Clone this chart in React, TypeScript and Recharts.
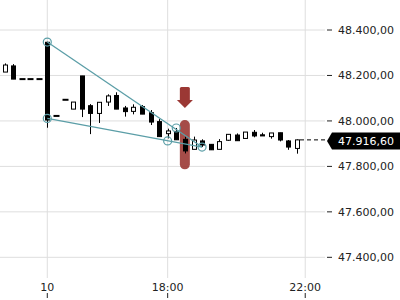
import { ComposedChart, Bar, XAxis, YAxis, CartesianGrid, ReferenceLine, ReferenceDot, ReferenceArea } from 'recharts'

const W = 400
const H = 300
const Y_AXIS_W = 75
const X_AXIS_H = 22
const Y_MIN = 47309
const Y_MAX = 48532
const FONT = 'DejaVu Sans'

// 15 min candles, one per slot
const opens = [48215, 48242, 48184, 48184, 48184, 48346, 48022, 48093, 48052, 48198, 48067, 48033, 48083, 48112, 48057, 48042, 48063, 48036, 47997, 47944, 47954, 47919, 47875, 47912, 47897, 47875, 47915, 47938, 47923, 47950, 47939, 47931, 47948, 47912, 47879]
const highs = [48253, 48250, 48184, 48184, 48184, 48348, 48022, 48093, 48083, 48198, 48074, 48083, 48117, 48126, 48066, 48073, 48070, 48048, 48008, 47966, 47969, 47931, 47931, 47919, 47898, 47920, 47942, 47945, 47951, 47960, 47948, 47947, 47948, 47916, 47919]
const lows = [48215, 48184, 48184, 48184, 48184, 47970, 48022, 48093, 48052, 48017, 47942, 47991, 48066, 48052, 48019, 48029, 48030, 47982, 47931, 47923, 47917, 47857, 47875, 47885, 47872, 47875, 47912, 47913, 47923, 47928, 47934, 47922, 47910, 47873, 47856]
const closes = [48246, 48184, 48184, 48184, 48184, 48004, 48022, 48093, 48083, 48052, 48033, 48082, 48110, 48052, 48041, 48060, 48030, 47995, 47931, 47956, 47917, 47868, 47916, 47894, 47873, 47909, 47941, 47913, 47951, 47934, 47934, 47947, 47916, 47885, 47916.6]

const xTicks = [5, 19, 35]
const xTickLabels = ['10', '18:00', '22:00']
const yTicks = [47400, 47600, 47800, 48000, 48200, 48400]

const lastPrice = 47916.6

// wedge drawing
const upperLine = [{ x: 5, y: 48347 }, { x: 23, y: 47885 }]
const lowerLine = [{ x: 5, y: 48011 }, { x: 23, y: 47885 }]
const anchors = [
  { x: 5, y: 48347 },
  { x: 5, y: 48011 },
  { x: 20, y: 47969 },
  { x: 19, y: 47912 },
  { x: 23, y: 47885 },
]
const highlight = { x: 21, y1: 47787, y2: 48004 }
const arrowTip = { x: 21, y: 48057 }

const TEAL = '#5b9ea7'
const RED = '#9b3834'

const data = opens.map((o, i) => ({ i, open: o, high: highs[i], low: lows[i], close: closes[i] }))

const fmt = (v: number) => {
  const [int, dec] = v.toFixed(2).split('.')
  return int.replace(/\B(?=(\d{3})+(?!\d))/g, '.') + ',' + dec
}

const Candle = (props: any) => {
  const { x, y, width, height, payload } = props
  const { open, close, high, low } = payload
  const k = height / (high - Y_MIN)
  const py = (v: number) => y + (high - v) * k
  const cx = Math.round(x + width / 2) + 0.5
  if (high === low) {
    return <rect x={cx - 3} y={py(high) - 1} width={6} height={2} fill="#000" />
  }
  const up = close > open
  const top = py(Math.max(open, close))
  const bot = py(Math.min(open, close))
  return (
    <g>
      <line x1={cx} x2={cx} y1={py(high)} y2={py(low)} stroke="#000" />
      <rect x={cx - 2} y={top} width={4} height={Math.max(bot - top, 1)} fill={up ? '#fff' : '#000'} stroke="#000" />
    </g>
  )
}

// axis labels hung on invisible reference lines (axes themselves are hidden)
const xLabel = (text: string) => (p: any) => {
  const { x, y, height } = p.viewBox
  const b = y + height
  return (
    <g>
      <text x={x} y={b + 13} textAnchor="middle" fontSize={11} fontFamily={FONT} fill="#222">
        {text}
      </text>
      <line x1={x} x2={x} y1={b + 15} y2={b + 20} stroke="#222" />
    </g>
  )
}

const yLabel = (value: number) => (p: any) => {
  const { x, y, width } = p.viewBox
  const r = x + width
  return (
    <g>
      <line x1={r + 2} x2={r + 7} y1={y} y2={y} stroke="#222" />
      <text x={r + 13} y={y} dy="0.36em" fontSize={11} fontFamily={FONT} fill="#222">
        {fmt(value)}
      </text>
    </g>
  )
}

const LastPrice = (p: any) => {
  const xr = Math.max(p.x1, p.x2)
  const yy = p.y1
  return (
    <g>
      <line x1={xr - 25} x2={xr} y1={yy} y2={yy} stroke="#000" strokeDasharray="4 3" />
      <path d={`M${xr + 2},${yy + 1} L${xr + 7},${yy - 7.5} H${xr + Y_AXIS_W} V${yy + 9.5} H${xr + 7} Z`} fill="#000" />
      <text x={xr + 13} y={yy + 1} dy="0.36em" fontSize={11} fontFamily={FONT} fill="#fff">
        {fmt(lastPrice)}
      </text>
    </g>
  )
}

const Highlight = (p: any) => {
  const { x, y, height } = p
  return <rect x={x - 5} y={y} width={10} height={height} rx={5} fill={RED} fillOpacity={0.9} />
}

const Arrow = ({ cx, cy }: any) => (
  <g fill={RED}>
    <rect x={cx - 5} y={cy - 21} width={10} height={14} rx={1.5} />
    <path d={`M${cx - 8},${cy - 8} L${cx + 8},${cy - 8} L${cx},${cy} Z`} />
  </g>
)

export default function App() {
  return (
    <div style={{ position: 'absolute', left: 0, top: 0, width: W, height: H, background: '#fff' }}>
      <ComposedChart width={W} height={H} data={data} margin={{ top: 0, right: Y_AXIS_W, bottom: X_AXIS_H, left: 0 }}>
        <CartesianGrid stroke="#dedede" horizontalValues={yTicks} verticalValues={xTicks} syncWithTicks />
        <XAxis dataKey="i" type="number" domain={[-0.5, 37.3]} allowDataOverflow ticks={xTicks} hide />
        <YAxis domain={[Y_MIN, Y_MAX]} allowDataOverflow ticks={yTicks} hide />
        {xTicks.map((t, k) => (
          <ReferenceLine key={'xl' + t} x={t} stroke="none" label={xLabel(xTickLabels[k])} ifOverflow="visible" />
        ))}
        {yTicks.map((t) => (
          <ReferenceLine key={'yl' + t} y={t} stroke="none" label={yLabel(t)} ifOverflow="visible" />
        ))}
        <ReferenceArea x1={highlight.x} x2={highlight.x} y1={highlight.y1} y2={highlight.y2} shape={Highlight} ifOverflow="visible" />
        <Bar dataKey={(d: any) => [Y_MIN, d.high]} barSize={5} shape={Candle} isAnimationActive={false} />
        <ReferenceLine segment={upperLine} stroke={TEAL} strokeWidth={1.3} ifOverflow="visible" />
        <ReferenceLine segment={lowerLine} stroke={TEAL} strokeWidth={1.3} ifOverflow="visible" />
        {anchors.map((a, k) => (
          <ReferenceDot key={k} x={a.x} y={a.y} r={4} fill="none" stroke={TEAL} strokeWidth={1.2} ifOverflow="visible" />
        ))}
        <ReferenceDot x={arrowTip.x} y={arrowTip.y} r={1} shape={Arrow} ifOverflow="visible" />
        <ReferenceLine y={lastPrice} shape={LastPrice} ifOverflow="visible" />
      </ComposedChart>
    </div>
  )
}
